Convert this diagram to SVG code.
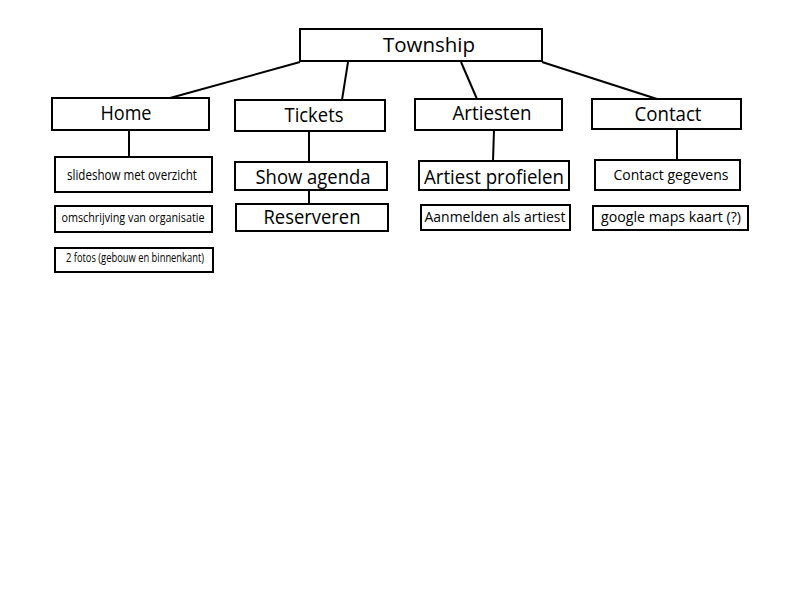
<svg xmlns="http://www.w3.org/2000/svg" width="800" height="600" viewBox="0 0 800 600">
<style>
.box{fill:#fff;stroke:#000;stroke-width:2}
.ln{stroke:#000;stroke-width:2;fill:none}
text{font-family:"Open Sans","Liberation Sans",sans-serif;fill:#000;text-anchor:middle}
.l{font-size:20px}
.m{font-size:14px}
.s{font-size:12px}
</style>
<rect width="800" height="600" fill="#fff"/>
<g id="connectors">
<line class="ln" x1="300" y1="62" x2="170" y2="98"/>
<line class="ln" x1="348" y1="62" x2="342" y2="100"/>
<line class="ln" x1="461" y1="62" x2="477" y2="99"/>
<line class="ln" x1="542" y1="62" x2="657" y2="99"/>
<line class="ln" x1="129" y1="130" x2="129" y2="157"/>
<line class="ln" x1="309" y1="131" x2="309" y2="162"/>
<line class="ln" x1="309" y1="190" x2="309" y2="204"/>
<line class="ln" x1="494" y1="130" x2="493" y2="161"/>
<line class="ln" x1="677" y1="129" x2="677" y2="160"/>
</g>
<g id="township"><rect class="box" x="300" y="29" width="242" height="32"/><text class="l" x="429" y="52" textLength="92" lengthAdjust="spacingAndGlyphs">Township</text></g>
<g id="home"><rect class="box" x="52" y="98" width="157" height="32"/><text class="l" x="126" y="120" textLength="51" lengthAdjust="spacingAndGlyphs">Home</text></g>
<g id="tickets"><rect class="box" x="235" y="100" width="150" height="31"/><text class="l" x="314" y="122" textLength="59" lengthAdjust="spacingAndGlyphs">Tickets</text></g>
<g id="artiesten"><rect class="box" x="415" y="99" width="147" height="31"/><text class="l" x="492" y="120" textLength="79" lengthAdjust="spacingAndGlyphs">Artiesten</text></g>
<g id="contact"><rect class="box" x="592" y="99" width="149" height="30"/><text class="l" x="668" y="121" textLength="67" lengthAdjust="spacingAndGlyphs">Contact</text></g>
<g id="slideshow"><rect class="box" x="55" y="157" width="157" height="35"/><text class="m" x="132" y="180" textLength="130" lengthAdjust="spacingAndGlyphs">slideshow met overzicht</text></g>
<g id="omschrijving"><rect class="box" x="55" y="206" width="157" height="26"/><text class="s" x="133" y="222" textLength="143" lengthAdjust="spacingAndGlyphs">omschrijving van organisatie</text></g>
<g id="fotos"><rect class="box" x="55" y="248" width="158" height="24"/><text class="s" x="135" y="262" textLength="138" lengthAdjust="spacingAndGlyphs">2 fotos (gebouw en binnenkant)</text></g>
<g id="showagenda"><rect class="box" x="235" y="162" width="152" height="28"/><text class="l" x="313" y="184" textLength="115" lengthAdjust="spacingAndGlyphs">Show agenda</text></g>
<g id="reserveren"><rect class="box" x="236" y="204" width="152" height="27"/><text class="l" x="312" y="224" textLength="97" lengthAdjust="spacingAndGlyphs">Reserveren</text></g>
<g id="profielen"><rect class="box" x="419" y="161" width="150" height="29"/><text class="l" x="494" y="184" textLength="140" lengthAdjust="spacingAndGlyphs">Artiest profielen</text></g>
<g id="aanmelden"><rect class="box" x="421" y="205" width="149" height="25"/><text class="m" x="495" y="222" textLength="141" lengthAdjust="spacingAndGlyphs">Aanmelden als artiest</text></g>
<g id="gegevens"><rect class="box" x="595" y="160" width="145" height="30"/><text class="m" x="671" y="180" textLength="115" lengthAdjust="spacingAndGlyphs">Contact gegevens</text></g>
<g id="maps"><rect class="box" x="593" y="206" width="155" height="24"/><text class="m" x="671" y="222" textLength="140" lengthAdjust="spacingAndGlyphs">google maps kaart (?)</text></g>
</svg>
